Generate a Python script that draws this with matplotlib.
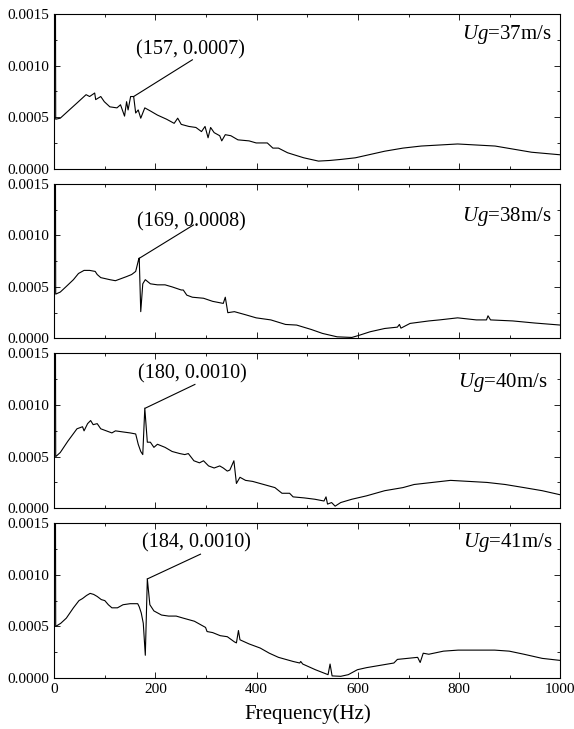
import matplotlib
matplotlib.use("Agg")
import matplotlib.pyplot as plt
from matplotlib.ticker import MultipleLocator, FormatStrFormatter

plt.rcParams['font.family'] = ['Liberation Serif', 'DejaVu Serif']
plt.rcParams['mathtext.fontset'] = 'custom'
plt.rcParams['mathtext.rm'] = 'Liberation Serif'
plt.rcParams['mathtext.it'] = 'Liberation Serif:italic'

# ---------------- data ----------------
f37 = [2, 3, 12, 27, 45, 63, 70, 80, 82, 92, 99, 110, 124, 131, 139, 143, 146, 151, 157, 161, 166, 171,
       179, 190, 204, 222, 237, 244, 251, 266, 280, 291, 298, 304, 309, 316, 327, 331, 338, 349, 363,
       385, 399, 421, 432, 443, 461, 472, 493, 522, 544, 566, 595, 624, 653, 689, 725, 761, 797, 834,
       871, 907, 943, 1000]
p37 = [0.003, 0.00048, 0.00049, 0.000557, 0.000637, 0.000718, 0.0007, 0.000734, 0.00067, 0.0007, 0.00065,
       0.0006, 0.00059, 0.00062, 0.00051, 0.00065, 0.00057, 0.0007, 0.0007, 0.00054, 0.00057, 0.00049,
       0.00059, 0.00056, 0.00052, 0.00048, 0.00044, 0.00049, 0.00043, 0.00041, 0.0004, 0.00036, 0.00041,
       0.0003, 0.0004, 0.00035, 0.00032, 0.00027, 0.00033, 0.00032, 0.00028, 0.00027, 0.00025, 0.00025,
       0.0002, 0.0002, 0.000155, 0.000138, 0.000106, 0.000074, 0.00008, 0.00009, 0.000106, 0.000138,
       0.00017, 0.0002, 0.00022, 0.00023, 0.00024, 0.00023, 0.00022, 0.00019, 0.00016, 0.000135]

f38 = [2, 3, 12, 23, 38, 48, 59, 70, 81, 85, 92, 110, 121, 132, 143, 153, 161, 167, 168, 171, 175, 180,
       190, 204, 219, 233, 251, 255, 262, 273, 295, 313, 334, 338, 343, 356, 378, 399, 428, 457, 479, 508,
       530, 559, 588, 602, 624, 653, 678, 682, 685, 703, 740, 761, 797, 834, 854, 857, 862, 906, 949, 1000]
p38 = [0.003, 0.00043, 0.00045, 0.0005, 0.00057, 0.00063, 0.00066, 0.00066, 0.00065, 0.00062, 0.00059,
       0.00057, 0.00056, 0.00058, 0.0006, 0.00062, 0.00065, 0.00077, 0.00078, 0.00026, 0.00053, 0.00057,
       0.00053, 0.00052, 0.00052, 0.0005, 0.00047, 0.00047, 0.00042, 0.0004, 0.00039, 0.00036, 0.00034,
       0.0004, 0.00025, 0.00026, 0.00023, 0.0002, 0.00018, 0.000136, 0.00013, 0.000087, 0.000049, 0.000016,
       0.00001, 0.00003, 0.000065, 0.000097, 0.00011, 0.000136, 0.0001, 0.000146, 0.00017, 0.00018, 0.0002,
       0.00018, 0.00018, 0.00022, 0.00018, 0.00017, 0.00015, 0.00013]

f40 = [2, 3, 12, 27, 45, 56, 59, 66, 72, 77, 85, 92, 103, 114, 121, 135, 150, 161, 166, 171, 175, 179,
       184, 190, 197, 204, 219, 233, 248, 258, 265, 276, 287, 295, 305, 316, 327, 334, 342, 347, 355, 360,
       367, 378, 392, 414, 436, 450, 465, 472, 494, 515, 533, 537, 540, 548, 555, 566, 588, 617, 653, 689,
       711, 747, 783, 819, 855, 891, 928, 964, 1000]
p40 = [0.003, 0.0005, 0.00054, 0.00065, 0.00077, 0.00079, 0.00075, 0.00082, 0.00085, 0.00081, 0.00082,
       0.00077, 0.00075, 0.00073, 0.00075, 0.00074, 0.00073, 0.00072, 0.00062, 0.00055, 0.00052, 0.00097,
       0.00064, 0.00064, 0.00059, 0.00062, 0.00059, 0.00055, 0.00053, 0.00052, 0.00053, 0.00046, 0.00044,
       0.00046, 0.00041, 0.00039, 0.00041, 0.00039, 0.00036, 0.00037, 0.00046, 0.00024, 0.0003, 0.00027,
       0.00026, 0.00023, 0.0002, 0.000145, 0.000145, 0.00011, 0.0001, 0.000087, 0.00007, 0.00011, 0.00004,
       0.000055, 0.00002, 0.000055, 0.000087, 0.00012, 0.00017, 0.0002, 0.00023, 0.00025, 0.00027, 0.00026,
       0.00025, 0.00023, 0.0002, 0.00017, 0.00013]

f41 = [2, 3, 13, 24, 38, 49, 56, 64, 71, 78, 85, 93, 100, 107, 114, 125, 136, 150, 165, 168, 172, 176,
       180, 184, 189, 197, 212, 226, 241, 255, 277, 299, 302, 313, 328, 342, 356, 360, 364, 367, 385, 407,
       425, 443, 472, 485, 487, 491, 516, 541, 545, 549, 566, 581, 599, 617, 653, 671, 678, 718, 723, 729,
       740, 769, 798, 834, 870, 899, 928, 964, 1000]
p41 = [0.003, 0.0005, 0.00053, 0.00058, 0.00068, 0.00075, 0.00077, 0.0008, 0.00082, 0.00081, 0.00079,
       0.00076, 0.00075, 0.00071, 0.00068, 0.00068, 0.00071, 0.00072, 0.00072, 0.00069, 0.00063, 0.00053,
       0.00022, 0.00096, 0.00071, 0.00065, 0.00061, 0.0006, 0.0006, 0.00058, 0.00055, 0.00049, 0.00045,
       0.00044, 0.00041, 0.0004, 0.00035, 0.00034, 0.00046, 0.00037, 0.00033, 0.00029, 0.00024, 0.0002,
       0.00016, 0.000145, 0.00016, 0.000135, 0.00008, 0.000032, 0.000135, 0.00002, 0.000016, 0.000032,
       0.00008, 0.0001, 0.00013, 0.000145, 0.00018, 0.0002, 0.00015, 0.00024, 0.00023, 0.00026, 0.00027,
       0.00027, 0.00027, 0.00026, 0.00023, 0.00019, 0.00017]

freqs = [f37, f38, f40, f41]
psds = [p37, p38, p40, p41]
speeds = ['37', '38', '40', '41']
peak_f = [157, 169, 180, 184]
peak_v = [0.0007, 0.0008, 0.0010, 0.0010]
peak_labels = ['(157, 0.0007)', '(169, 0.0008)', '(180, 0.0010)', '(184, 0.0010)']
peak_mark_v = [0.0007, 0.00078, 0.00097, 0.00096]

# layout / annotation placement
text_pos = [(270, 0.00115), (271, 0.001134), (273, 0.0013), (281, 0.00131)]
line_end = [(273, 0.001056), (275, 0.0011), (278, 0.0012), (289, 0.0012)]
ug_pos = [(982, 0.0013), (982, 0.00118), (975, 0.00122), (985, 0.00131)]

fig = plt.figure(figsize=(5.74, 7.29), dpi=100)
gs = fig.add_gridspec(4, 1, left=0.0944, right=0.9763, top=0.9808, bottom=0.070, hspace=0.097)

for i in range(4):
    ax = fig.add_subplot(gs[i, 0])
    ax.plot(freqs[i], psds[i], color='black', lw=0.8)
    ax.set_xlim(0, 1000)
    ax.set_ylim(0, 0.0015)
    ax.xaxis.set_major_locator(MultipleLocator(200))
    ax.xaxis.set_minor_locator(MultipleLocator(100))
    ax.yaxis.set_major_locator(MultipleLocator(0.0005))
    ax.yaxis.set_minor_locator(MultipleLocator(0.00025))
    ax.yaxis.set_major_formatter(FormatStrFormatter('%.4f'))
    ax.tick_params(which='both', direction='in', top=True, right=True, labelsize=11, width=0.6)
    ax.tick_params(which='major', length=4)
    ax.tick_params(which='minor', length=2.5)
    for s in ax.spines.values():
        s.set_linewidth(0.8)
    if i < 3:
        ax.tick_params(labelbottom=False)
    else:
        ax.set_xlabel('Frequency(Hz)', fontsize=15, labelpad=6)

    ax.plot([peak_f[i], line_end[i][0]], [peak_mark_v[i], line_end[i][1]], color='black', lw=0.8)
    ax.text(text_pos[i][0], text_pos[i][1], peak_labels[i], fontsize=14.5, ha='center', va='center')
    ax.text(ug_pos[i][0], ug_pos[i][1], r'$\mathit{Ug}$=' + speeds[i] + 'm/s', fontsize=15,
            ha='right', va='center')

fig.savefig('out.png', dpi=100)
